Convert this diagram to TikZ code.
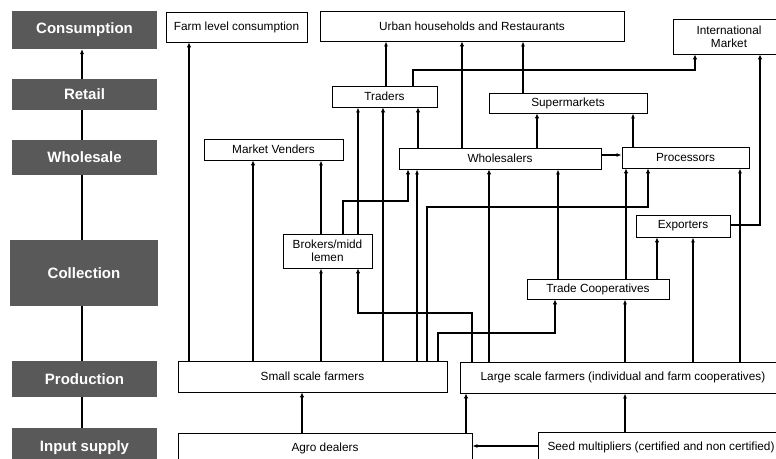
\documentclass[tikz,border=0pt]{standalone}
\usepackage{fontspec}
\setmainfont{Liberation Sans}
\usetikzlibrary{arrows.meta}
\definecolor{stagegray}{HTML}{595959}
\begin{document}
\begin{tikzpicture}[x=1pt,y=-1pt,
  box/.style={draw=black, line width=0.8pt, inner sep=0pt, align=center, font=\fontsize{11.8}{13}\selectfont},
  stage/.style={fill=stagegray, text=white, inner sep=0pt, font=\fontsize{15}{17}\selectfont\bfseries, minimum width=145pt},
  athin/.style={line width=1.05pt, -{Latex[length=5pt,width=4pt]}},
  amed/.style={line width=1.4pt, -{Latex[length=5pt,width=4pt]}},
  athk/.style={line width=2pt, -{Latex[length=5pt,width=4.5pt]}},
  spine/.style={line width=2.2pt}
]
\useasboundingbox (0,0) rectangle (776,458);
\clip (0,0) rectangle (776,458);

% stage column
\node[stage, minimum height=38pt] (cons) at (84.5,30) {Consumption};
\node[stage, minimum height=31pt] (ret) at (84.5,94.5) {Retail};
\node[stage, minimum height=35pt] (whs) at (84.5,157.5) {Wholesale};
\node[stage, minimum height=66pt, minimum width=148pt] (col) at (84,273) {Collection};
\node[stage, minimum height=36pt] (prod) at (84.5,379) {Production};
\node[stage, minimum height=40pt] (inp) at (84.5,448) {Input supply};

\draw[athk] (82,0 |- ret.north) -- (82,0 |- cons.south);
\draw[spine] (82,0 |- whs.north) -- (82,0 |- ret.south);
\draw[spine] (82,0 |- col.north) -- (82,0 |- whs.south);
\draw[spine] (82,0 |- prod.north) -- (82,0 |- col.south);
\draw[spine] (82,0 |- inp.north) -- (82,0 |- prod.south);

% actor boxes
\node[box, minimum width=141pt, minimum height=30pt] (flc) at (236.5,27) {Farm level consumption};
\node[box, minimum width=304pt, minimum height=30pt] (urban) at (472,26) {Urban households and Restaurants};
\node[box, minimum width=112pt, minimum height=35pt] (intl) at (729,36.5) {International\\Market};
\node[box, minimum width=105pt, minimum height=21pt] (trad) at (384.5,96.5) {Traders};
\node[box, minimum width=158pt, minimum height=20pt] (super) at (568,103) {Supermarkets};
\node[box, minimum width=139pt, minimum height=21pt] (mv) at (273.5,149.5) {Market Venders};
\node[box, minimum width=202pt, minimum height=21pt] (whole) at (500,158.5) {Wholesalers};
\node[box, minimum width=127pt, minimum height=21pt] (proc) at (685.5,157.5) {Processors};
\node[box, minimum width=94pt, minimum height=22pt] (exp) at (683,226) {Exporters};
\node[box, minimum width=89pt, minimum height=34pt] (brok) at (327.5,251) {Brokers/midd\\lemen};
\node[box, minimum width=142pt, minimum height=20pt] (tc) at (598,289) {Trade Cooperatives};
\node[box, minimum width=269pt, minimum height=31pt] (ssf) at (312.5,376.5) {Small scale farmers};
\node[box, minimum width=326pt, minimum height=31pt] (lsf) at (623,377.5) {Large scale farmers (individual and farm cooperatives)};
\node[box, minimum width=294pt, minimum height=30pt] (agro) at (325,448) {Agro dealers};
\node[box, minimum width=246pt, minimum height=31pt] (seed) at (661,447.5) {Seed multipliers (certified and non certified)};

% connectors: small scale farmers
\draw[athk] (189,0 |- ssf.north) -- (189,0 |- flc.south);
\draw[athk] (253,0 |- ssf.north) -- (253,0 |- mv.south);
\draw[athin] (321,0 |- ssf.north) -- (321,0 |- brok.south);
\draw[athk] (383,0 |- ssf.north) -- (383,0 |- trad.south);
\draw[athin] (417,0 |- ssf.north) -- (417,0 |- whole.south);
\draw[athk] (427,0 |- ssf.north) -- (427,207) -- (648,207) -- (648,0 |- proc.south);
\draw[athk] (438,0 |- ssf.north) -- (438,333) -- (555,333) -- (555,0 |- tc.south);

% brokers
\draw[athin] (321,0 |- brok.north) -- (321,0 |- mv.south);
\draw[athin] (358,0 |- brok.north) -- (358,0 |- trad.south);
\draw[athk] (343,0 |- brok.north) -- (343,201) -- (408,201) -- (408,0 |- whole.south);

% large scale farmers
\draw[athk] (472,0 |- lsf.north) -- (472,313) -- (358,313) -- (358,0 |- brok.south);
\draw[athk] (489,0 |- lsf.north) -- (489,0 |- whole.south);
\draw[amed] (625,0 |- lsf.north) -- (625,0 |- tc.south);
\draw[amed] (693,0 |- lsf.north) -- (693,0 |- exp.south);
\draw[athin] (740,0 |- lsf.north) -- (740,0 |- proc.south);

% trade cooperatives
\draw[athin] (558,0 |- tc.north) -- (558,0 |- whole.south);
\draw[athk] (626,0 |- tc.north) -- (626,0 |- proc.south);
\draw[athk] (657,0 |- tc.north) -- (657,0 |- exp.south);

% exporters
\draw[athk] (0,225 -| exp.east) -- (760,225) -- (760,0 |- intl.south);

% wholesalers / processors
\draw[amed] (0,155 -| whole.east) -- (0,155 -| proc.west);
\draw[athk] (418,0 |- whole.north) -- (418,0 |- trad.south);
\draw[athk] (462,0 |- whole.north) -- (462,0 |- urban.south);
\draw[athk] (537,0 |- whole.north) -- (537,0 |- super.south);
\draw[athin] (633,0 |- proc.north) -- (633,0 |- super.south);

% traders / supermarkets
\draw[amed] (386,0 |- trad.north) -- (386,0 |- urban.south);
\draw[athk] (413,0 |- trad.north) -- (413,70) -- (695,70) -- (695,0 |- intl.south);
\draw[amed] (523,0 |- super.north) -- (523,0 |- urban.south);

% input supply
\draw[athk] (302,0 |- agro.north) -- (302,0 |- ssf.south);
\draw[athk] (466,0 |- agro.north) -- (466,0 |- lsf.south);
\draw[athin] (0,446 -| seed.west) -- (0,446 -| agro.east);
\draw[amed] (625,0 |- seed.north) -- (625,0 |- lsf.south);
\end{tikzpicture}
\end{document}
